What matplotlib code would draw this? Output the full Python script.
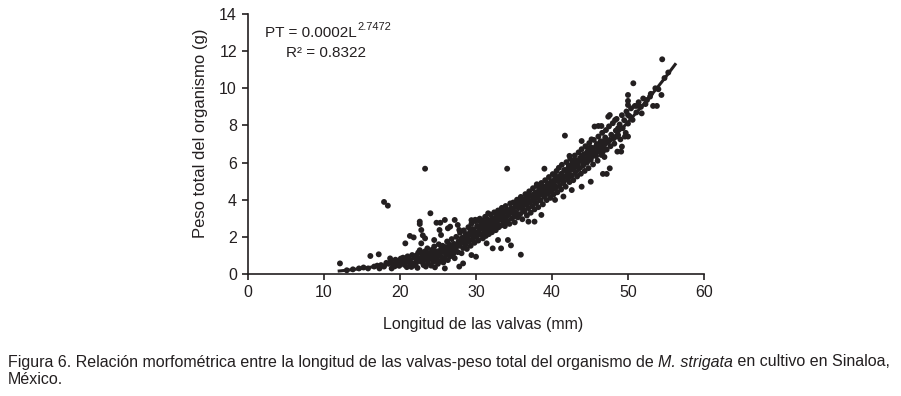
import matplotlib
matplotlib.use("Agg")
import matplotlib.pyplot as plt
import numpy as np

# ---------------- data ----------------
# small animals and isolated points
sparse_length = [12.1, 13.0, 13.8, 14.6, 15.2, 15.8, 16.1, 16.6, 17.2, 17.0, 17.5, 17.9, 17.3, 18.2,
                 18.7, 18.5, 18.9]
sparse_weight = [0.57, 0.20, 0.25, 0.30, 0.35, 0.30, 0.97, 0.40, 1.06, 0.45, 0.48, 0.40, 0.30, 0.60,
                 0.84, 0.55, 0.30]

outlier_length = [17.9, 18.4, 23.3, 24.0, 34.1, 39.0, 41.7, 54.5, 50.7, 35.9]
outlier_weight = [3.88, 3.68, 5.67, 3.27, 5.67, 5.67, 7.45, 11.56, 10.27, 1.04]

# scatter around the main band
scatter_length = [20.7, 21.3, 21.8, 22.6, 22.6, 22.8, 23.0, 23.3, 22.8, 24.8, 25.3, 25.9, 27.2, 26.6,
                  26.3, 27.6, 27.8, 25.2, 25.4, 24.5, 29.4, 29.9, 30.3, 30.8, 31.6, 33.1,
                  27.8, 28.3, 25.9, 29.4, 30.0, 31.4, 32.2, 33.3, 34.6, 32.9, 34.2,
                  36.4, 38.0, 38.6, 40.4, 42.3, 43.0, 43.9, 44.8, 45.2, 38.6, 37.7, 36.9, 40.4,
                  41.5, 42.6, 43.9, 45.1, 46.7, 47.2, 47.6, 45.6, 46.1, 46.5, 47.4, 47.6, 48.3,
                  48.7, 50.0, 50.0, 50.0, 51.2, 51.8, 50.0, 49.6, 50.0, 49.1, 48.6, 49.2, 48.5,
                  47.6, 46.5, 46.7, 53.6, 54.0, 54.4, 53.3, 53.8, 52.9, 52.5]
scatter_weight = [1.65, 2.05, 1.97, 2.82, 2.69, 2.37, 2.08, 1.92, 1.65, 2.76, 2.76, 2.91, 2.91, 2.55,
                  2.46, 2.64, 2.37, 2.37, 2.10, 1.83, 2.90, 2.92, 2.90, 2.88, 3.27, 3.36,
                  0.40, 0.57, 0.30, 1.02, 0.93, 1.65, 1.38, 1.38, 1.54, 1.83, 1.83,
                  4.02, 4.83, 4.70, 5.33, 6.36, 6.14, 7.16, 6.77, 7.25, 3.18, 2.82, 2.82, 3.99,
                  4.17, 4.52, 4.70, 4.97, 5.39, 5.39, 5.69, 7.94, 7.97, 7.97, 8.47, 8.56, 8.29,
                  7.85, 9.64, 9.32, 9.10, 9.05, 8.65, 8.56, 7.40, 7.40, 6.59, 6.59, 6.86, 7.40,
                  7.22, 6.41, 6.59, 10.00, 9.95, 9.64, 9.05, 9.05, 9.55, 9.37]

# dense main band
band_length = [
    19.1, 18.8, 19.3, 19.4,
    19.6, 19.9, 20.1, 19.7, 20.3,
    20.6, 20.4, 20.8, 20.9, 21.0, 20.7,
    21.2, 21.4, 21.1, 21.6, 21.5, 21.3, 21.7,
    22.0, 21.9, 22.2, 22.4, 22.1, 22.3, 22.5, 22.6,
    22.8, 22.9, 23.1, 23.0, 23.3, 23.2, 23.4, 23.5, 23.6,
    23.7, 23.9, 24.0, 24.1, 24.2, 24.3, 24.4, 24.5, 24.6, 24.7,
    24.8, 24.9, 25.0, 25.1, 25.2, 25.3, 25.4, 25.5, 25.6, 25.7,
    25.8, 25.9, 26.0, 26.1, 26.2, 26.3, 26.4, 26.5, 26.6, 26.7,
    26.8, 26.9, 27.0, 27.1, 27.2, 27.3, 27.4, 27.5, 27.6, 27.7,
    27.8, 27.9, 28.0, 28.1, 28.2, 28.3, 28.4, 28.5, 28.6, 28.7,
    28.8, 28.9, 29.0, 29.1, 29.2, 29.3, 29.4, 29.5, 29.6, 29.7,
    29.8, 29.9, 30.0, 30.1, 30.2, 30.3, 30.4, 30.5, 30.6, 30.7,
    30.8, 30.9, 31.0, 31.1, 31.2, 31.3, 31.4, 31.5, 31.6, 31.7,
    31.8, 31.9, 32.0, 32.1, 32.2, 32.3, 32.4, 32.5, 32.6, 32.7,
    32.8, 32.9, 33.0, 33.1, 33.2, 33.3, 33.4, 33.5, 33.6, 33.7,
    33.8, 33.9, 34.0, 34.1, 34.2, 34.3, 34.4, 34.5, 34.6, 34.7,
    34.8, 34.9, 35.0, 35.1, 35.2, 35.3, 35.4, 35.5, 35.6, 35.7,
    35.8, 35.9, 36.0, 36.1, 36.2, 36.3, 36.4, 36.5, 36.6, 36.7,
    36.8, 36.9, 37.0, 37.1, 37.2, 37.3, 37.4, 37.5, 37.6, 37.7,
    37.8, 37.9, 38.0, 38.1, 38.2, 38.3, 38.4, 38.5, 38.6, 38.7,
    38.8, 38.9, 39.0, 39.1, 39.2, 39.3, 39.4, 39.5, 39.6, 39.7,
    39.8, 39.9, 40.0, 40.1, 40.2, 40.3, 40.4, 40.5, 40.6, 40.7,
    40.8, 40.9, 41.0, 41.1, 41.2, 41.3, 41.4, 41.5, 41.6, 41.7,
    41.8, 41.9, 42.0, 42.1, 42.2, 42.3, 42.4, 42.5, 42.6, 42.7,
    42.8, 42.9, 43.0, 43.1, 43.2, 43.3, 43.4, 43.5, 43.6, 43.7,
    43.8, 43.9, 44.0, 44.1, 44.2, 44.3, 44.4, 44.5, 44.6, 44.7,
    44.8, 44.9, 45.0, 45.1, 45.2, 45.4, 45.5, 45.6, 45.8, 45.9,
    46.0, 46.1, 46.2, 46.4, 46.5, 46.6, 46.8, 46.9, 47.0,
    47.1, 47.2, 47.4, 47.5, 47.7, 47.8, 48.0, 48.1,
    48.2, 48.4, 48.5, 48.7, 48.9, 49.0, 49.2,
    49.3, 49.5, 49.7, 49.8, 50.0,
    50.2, 50.4, 50.6, 50.9,
    51.1, 51.4, 51.7, 52.0, 52.3,
    53.0, 54.8, 55.3,
]
band_weight = [
    0.52, 0.68, 0.41, 0.77,
    0.58, 0.44, 0.83, 0.71, 0.62,
    0.49, 0.88, 0.71, 0.37, 0.95, 0.60,
    0.66, 0.52, 0.84, 1.02, 0.38, 0.74, 0.58,
    0.92, 0.47, 0.70, 1.15, 0.58, 0.33, 0.83, 1.28,
    0.66, 1.05, 0.48, 0.88, 1.22, 0.74, 0.40, 0.97, 1.38,
    0.58, 1.12, 0.82, 0.45, 1.30, 0.95, 0.66, 1.48, 0.36, 1.08,
    0.80, 1.22, 0.55, 1.60, 1.00, 0.70, 1.35, 0.90, 1.52, 0.62,
    1.18, 0.85, 1.45, 1.05, 1.75, 0.75, 1.30, 1.58, 0.95, 1.20,
    1.88, 1.40, 1.08, 1.62, 0.85, 1.32, 2.00, 1.50, 1.18, 1.75,
    1.52, 2.22, 1.68, 1.12, 1.95, 1.40, 2.35, 1.78, 1.58, 2.12,
    1.35, 1.95, 2.52, 1.75, 2.20, 1.52, 2.70, 2.08, 1.85, 2.38,
    1.68, 2.85, 2.22, 2.00, 2.58, 1.80, 2.33, 2.98, 2.12, 2.68,
    2.45, 1.92, 2.80, 2.25, 3.08, 2.05, 2.62, 2.38, 2.92, 2.15,
    2.70, 3.20, 2.48, 2.25, 3.00, 2.62, 3.32, 2.82, 2.36, 3.08,
    2.72, 3.42, 2.52, 2.94, 3.20, 2.62, 3.56, 3.06, 2.80, 3.33,
    2.58, 3.66, 3.08, 2.84, 3.44, 3.20, 2.70, 3.80, 3.32, 2.98,
    3.48, 3.85, 3.10, 2.78, 3.62, 3.30, 4.00, 3.05, 3.55, 3.80,
    3.22, 4.15, 3.68, 2.95, 3.45, 3.90, 3.35, 4.30, 3.72, 3.15,
    4.05, 3.55, 4.45, 3.85, 3.30, 4.20, 3.65, 4.62, 4.00, 3.48,
    4.38, 3.82, 4.75, 4.12, 3.60, 4.55, 4.25, 3.95, 4.90, 4.40,
    3.75, 4.68, 4.20, 5.05, 4.48, 3.98, 4.85, 4.35, 5.22, 4.62,
    4.10, 5.00, 4.52, 5.38, 4.28, 4.80, 5.15, 4.65, 5.55, 4.40,
    5.00, 5.72, 4.75, 5.30, 4.55, 5.88, 5.10, 4.90, 5.60, 5.25,
    4.70, 6.02, 5.45, 5.15, 5.80, 4.95, 6.20, 5.60, 5.30, 6.00,
    5.05, 5.78, 6.38, 5.50, 6.10, 5.25, 5.92, 6.55, 5.70, 6.25,
    5.40, 6.72, 6.05, 5.85, 6.45, 5.55, 6.88, 6.20, 6.00, 6.62,
    5.70, 7.05, 6.40, 6.15, 6.80, 5.90, 7.22, 6.58, 6.35, 7.00,
    6.10, 7.40, 6.78, 7.15, 6.50, 7.60, 6.95, 6.30, 7.35,
    7.75, 6.70, 7.12, 7.95, 6.88, 7.50, 8.12, 7.30,
    7.02, 7.72, 8.35, 7.48, 8.05, 7.25, 8.55,
    7.85, 8.28, 7.60, 8.75, 8.10,
    8.50, 8.92, 8.30, 9.05,
    8.70, 9.25, 9.00, 9.45, 9.15,
    9.70, 10.55, 10.85,
]

# points that fill the gaps inside the dense band
fill_length = [22.15, 22.55, 22.95, 23.35, 23.75, 24.15, 24.55, 24.95, 25.35, 25.75,
               26.05, 26.45, 26.85, 27.25, 27.65, 28.05, 28.35, 28.65, 28.95, 29.25,
               29.55, 29.85, 30.15, 30.45, 30.75, 31.05, 31.35, 31.65, 31.95, 32.25,
               32.55, 32.85, 33.15, 33.45, 33.75, 34.05, 34.35, 34.65, 34.95, 35.25,
               35.55, 35.85, 36.15, 36.45, 36.75, 37.05, 37.35, 37.65, 37.95, 38.25,
               38.55, 38.85, 39.15, 39.45, 39.75, 40.05, 40.35, 40.65, 40.95, 41.25,
               41.55, 41.85, 42.15, 42.45, 42.75, 43.05, 43.35, 43.65, 43.95, 44.25,
               44.55, 44.85, 45.15, 45.45, 45.75, 46.05, 46.35, 46.65, 46.95]
fill_weight = [1.00, 0.72, 1.15, 0.95, 0.78, 1.05, 1.20, 1.00, 1.15, 1.40,
               1.30, 1.10, 1.55, 1.45, 1.62, 1.90, 1.72, 2.15, 2.05, 2.30,
               2.42, 2.20, 2.58, 2.45, 2.70, 2.50, 2.80, 2.55, 2.78, 3.00,
               2.90, 3.15, 2.98, 3.30, 3.05, 3.45, 3.28, 3.55, 3.38, 3.80,
               3.62, 3.90, 3.50, 4.05, 3.88, 4.25, 3.95, 4.30, 4.10, 4.42,
               4.60, 4.38, 4.70, 4.55, 4.90, 4.72, 5.02, 5.20, 5.05, 5.40,
               5.22, 5.60, 5.40, 5.85, 5.70, 6.05, 5.78, 6.15, 6.35, 6.10,
               6.50, 6.30, 6.60, 6.45, 6.85, 6.62, 7.00, 6.80, 7.20]

# fitted trend line (as drawn: power curve, exponent from the label)
fit_coef = 0.000176
fit_exp = 2.7472
fit_range = [12.0, 56.2]

x_ticks = [0, 10, 20, 30, 40, 50, 60]
y_ticks = [0, 2, 4, 6, 8, 10, 12, 14]

x_label = "Longitud de las valvas (mm)"
y_label = "Peso total del organismo (g)"
eq_main = "PT = 0.0002L"
eq_exp = "2.7472"
eq_r2 = "R² = 0.8322"
caption_parts = [
    ("Figura 6. Relación morfométrica entre la longitud de las valvas-peso total del organismo de ", "normal"),
    ("M. strigata", "italic"),
    (" en cultivo en Sinaloa,", "normal"),
]
caption_line2 = "México."

# ---------------- drawing ----------------
ink = "#231f20"
plt.rcParams["font.family"] = ["Liberation Sans", "DejaVu Sans"]

W, H = 901, 396
fig = plt.figure(figsize=(W / 100, H / 100), dpi=100)
ax = fig.add_axes([248 / W, (H - 274) / H, (704 - 248) / W, 260 / H])

all_length = sparse_length + outlier_length + scatter_length + band_length + fill_length
all_weight = sparse_weight + outlier_weight + scatter_weight + band_weight + fill_weight
ax.scatter(all_length, all_weight, s=18, color=ink, edgecolors="none", zorder=3)
xs = np.linspace(fit_range[0], fit_range[1], 200)
ax.plot(xs, fit_coef * xs ** fit_exp, color=ink, lw=2.2, zorder=4)

ax.set_xlim(0, 60)
ax.set_ylim(0, 14)
ax.set_xticks(x_ticks)
ax.set_yticks(y_ticks)
for s in ("top", "right"):
    ax.spines[s].set_visible(False)
for s in ("left", "bottom"):
    ax.spines[s].set_color(ink)
    ax.spines[s].set_linewidth(1.2)
ax.tick_params(direction="out", length=4, width=1.2, color=ink, labelcolor=ink, labelsize=11.5, pad=4)
ax.set_xlabel(x_label, fontsize=11.5, color=ink)
ax.xaxis.set_label_coords((483 - 248) / 456, -(324 - 274) / 260)
ax.set_ylabel(y_label, fontsize=12, color=ink)
ax.yaxis.set_label_coords((200 - 248) / 456, 0.54)
ax.xaxis.label.set_va("center")
ax.yaxis.label.set_va("center")

fig.canvas.draw()
renderer = fig.canvas.get_renderer()

t_eq = fig.text(265 / W, 1 - 33 / H, eq_main, fontsize=11, color=ink, va="center", ha="left")
bb = t_eq.get_window_extent(renderer=renderer)
fig.text(bb.x1 / W + 1 / W, 1 - 27 / H, eq_exp, fontsize=8, color=ink, va="center", ha="left")
fig.text(286 / W, 1 - 53 / H, eq_r2, fontsize=11, color=ink, va="center", ha="left")


# caption, fitted to the reference width (8 .. 895 px)
def draw_caption(size):
    objs = []
    xc = 8
    for txt, style in caption_parts:
        t = fig.text(xc / W, 1 - 362 / H, txt, fontsize=size, style=style, color=ink,
                     va="center", ha="left")
        objs.append(t)
        xc = t.get_window_extent(renderer=renderer).x1
    return objs, xc


objs, end = draw_caption(10.5)
size = 10.5 * (895 - 8) / (end - 8)
for o in objs:
    o.remove()
draw_caption(size)
fig.text(8 / W, 1 - 380 / H, caption_line2, fontsize=size, color=ink, va="center", ha="left")

fig.savefig("out.png", dpi=100)
